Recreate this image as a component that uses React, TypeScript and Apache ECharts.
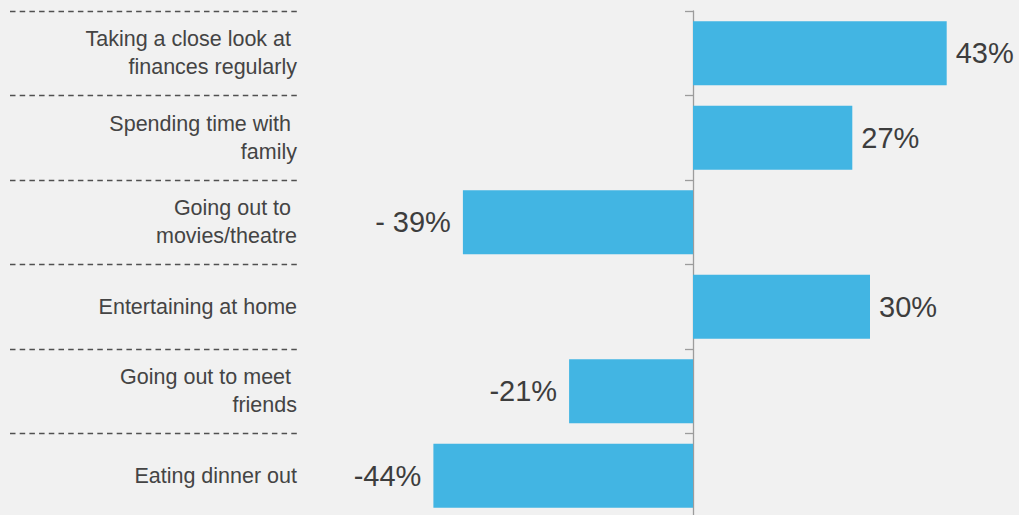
import React, { useEffect, useRef } from "react";
import * as echarts from "echarts";

const categories = [
  "Taking a close look at \nfinances regularly",
  "Spending time with \nfamily",
  "Going out to \nmovies/theatre",
  "Entertaining at home",
  "Going out to meet \nfriends",
  "Eating dinner out",
];
const values = [43, 27, -39, 30, -21, -44];
const valueLabels = ["43%", "27%", "- 39%", "30%", "-21%", "-44%"];

export default function App() {
  const ref = useRef<HTMLDivElement>(null);
  useEffect(() => {
    if (!ref.current) return;
    const chart = echarts.init(ref.current, null, { renderer: "svg" });
    chart.setOption({
      animation: false,
      backgroundColor: "#f1f1f1",
      grid: [
        { left: 339, width: 649, top: 11, height: 507 },
        { left: 10, width: 288, top: 11, height: 507 },
      ],
      xAxis: [
        { type: "value", gridIndex: 0, min: -60, max: 50, show: false },
        { type: "value", gridIndex: 1, min: 0, max: 1, show: false },
      ],
      yAxis: [
        {
          type: "category",
          gridIndex: 0,
          data: categories,
          inverse: true,
          axisLine: { show: true, onZero: true, lineStyle: { color: "#9c9c9c", width: 1.3 } },
          axisTick: { show: true, length: 8, lineStyle: { color: "#9c9c9c", width: 1.3 } },
          axisLabel: { show: false },
          splitLine: { show: false },
        },
        {
          type: "category",
          gridIndex: 1,
          data: categories,
          inverse: true,
          position: "right",
          axisLine: { show: false },
          axisTick: { show: false },
          axisLabel: {
            show: true,
            inside: true,
            margin: 1,
            align: "right",
            fontFamily: "Liberation Sans, Arial, sans-serif",
            fontSize: 21.5,
            lineHeight: 28,
            color: "#444444",
          },
          splitLine: {
            show: true,
            lineStyle: { color: "#505050", width: 1.3, type: [5.5, 4.2] },
          },
        },
      ],
      series: [
        {
          type: "bar",
          xAxisIndex: 0,
          yAxisIndex: 0,
          data: values.map((v, i) => ({
            value: v,
            label: {
              show: true,
              position: v >= 0 ? "right" : "left",
              distance: v >= 0 ? 9 : 12,
              formatter: valueLabels[i],
            },
          })),
          barCategoryGap: "24%",
          itemStyle: { color: "#42b5e3" },
          label: {
            fontFamily: "Liberation Sans, Arial, sans-serif",
            fontSize: 29,
            color: "#3d3d3d",
          },
        },
      ],
    });
    return () => chart.dispose();
  }, []);
  return (
    <div
      ref={ref}
      style={{ position: "fixed", left: 0, top: 0, width: 1019, height: 525 }}
    />
  );
}
